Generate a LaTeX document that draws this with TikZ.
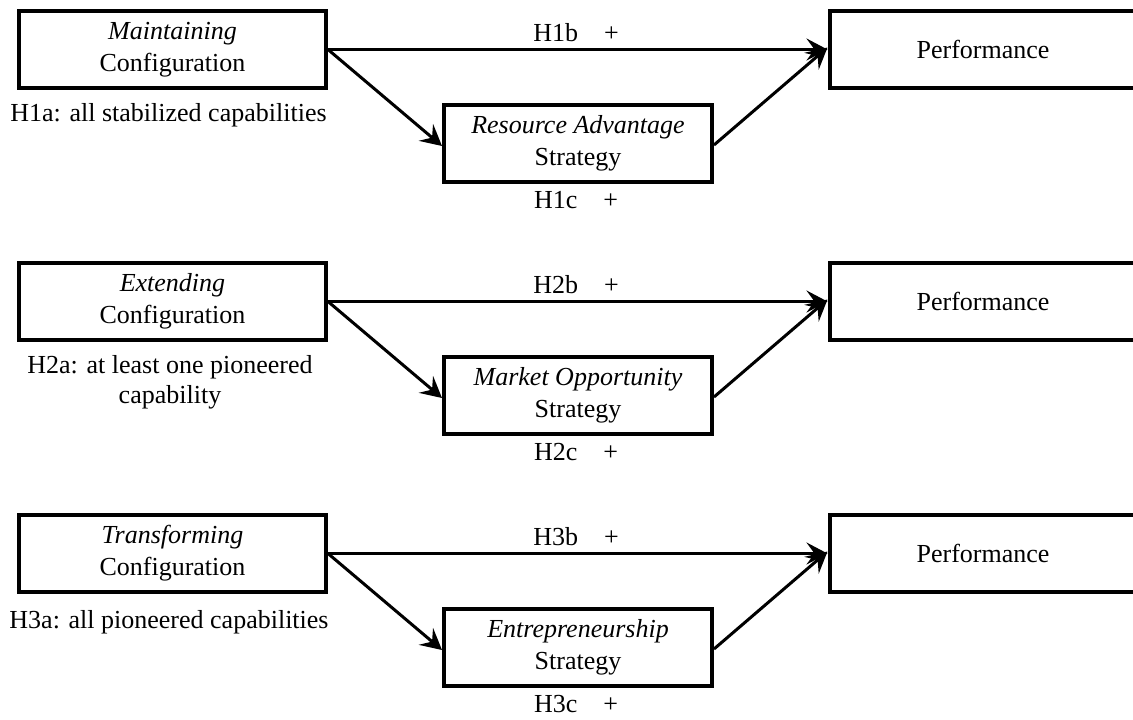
\documentclass[tikz,border=0pt]{standalone}
\usepackage{fontspec}
\setmainfont{Liberation Serif}
\usetikzlibrary{arrows.meta}
\begin{document}
\begin{tikzpicture}[x=1pt,y=-1pt,
  box/.style={draw,line width=4pt,minimum height=77pt,align=center,inner sep=0pt,
    font=\fontsize{26}{32}\selectfont},
  cfgbox/.style={box,minimum width=307pt},
  stratbox/.style={box,minimum width=268pt},
  perfbox/.style={box,minimum width=307pt},
  lbl/.style={align=center,inner sep=0pt,font=\fontsize{26}{30}\selectfont},
  conn/.style={line width=3pt,-{Stealth[length=21pt,width=22pt,inset=8pt]}},
  hconn/.style={conn,line width=2.5pt},
]
\useasboundingbox (0,0) rectangle (1133,720);
\clip (0,0) rectangle (1133,720);
% Row 1
\node[cfgbox] (L1) at (172.5,49.5) {\textit{Maintaining}\\Configuration};
\node[stratbox] (M1) at (578,143) {\textit{Resource Advantage}\\Strategy};
\node[perfbox] (P1) at (983,49.5) {Performance};
\node[lbl] (A1) at (168.5,115) {H1a: all stabilized capabilities};
\node[lbl] (B1) at (576,33) {H1b\hspace{1em}+};
\node[lbl] (C1) at (576,200) {H1c\hspace{1em}+};
\draw[hconn] (L1.east) -- (P1.west);
\draw[conn] (L1.east) -- ([yshift=-3pt]M1.west);
\draw[conn] ([yshift=-2pt]M1.east) -- ([yshift=2pt]P1.west);
% Row 2
\node[cfgbox] (L2) at (172.5,301.5) {\textit{Extending}\\Configuration};
\node[stratbox] (M2) at (578,395) {\textit{Market Opportunity}\\Strategy};
\node[perfbox] (P2) at (983,301.5) {Performance};
\node[lbl] (A2) at (170,382) {H2a: at least one pioneered\\capability};
\node[lbl] (B2) at (576,285) {H2b\hspace{1em}+};
\node[lbl] (C2) at (576,452) {H2c\hspace{1em}+};
\draw[hconn] (L2.east) -- (P2.west);
\draw[conn] (L2.east) -- ([yshift=-3pt]M2.west);
\draw[conn] ([yshift=-2pt]M2.east) -- ([yshift=2pt]P2.west);
% Row 3
\node[cfgbox] (L3) at (172.5,553.5) {\textit{Transforming}\\Configuration};
\node[stratbox] (M3) at (578,647) {\textit{Entrepreneurship}\\Strategy};
\node[perfbox] (P3) at (983,553.5) {Performance};
\node[lbl] (A3) at (169,622) {H3a: all pioneered capabilities};
\node[lbl] (B3) at (576,537) {H3b\hspace{1em}+};
\node[lbl] (C3) at (576,704) {H3c\hspace{1em}+};
\draw[hconn] (L3.east) -- (P3.west);
\draw[conn] (L3.east) -- ([yshift=-3pt]M3.west);
\draw[conn] ([yshift=-2pt]M3.east) -- ([yshift=2pt]P3.west);
\end{tikzpicture}
\end{document}
